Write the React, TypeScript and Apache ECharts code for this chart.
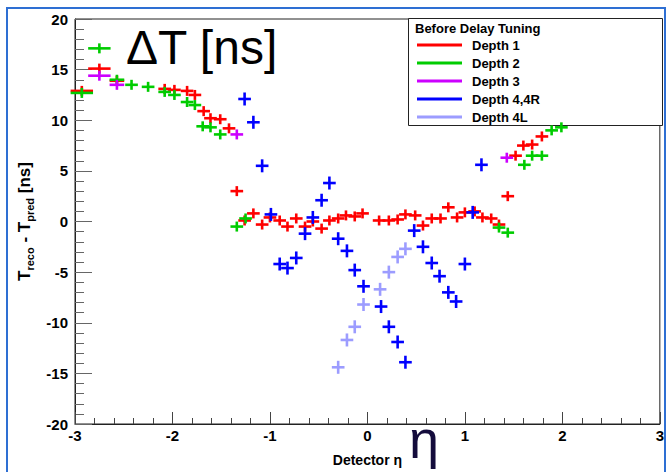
import { useEffect, useRef } from "react";
import * as echarts from "echarts";

// Timing offset T_reco - T_pred [ns] per detector eta bin, before delay tuning
const depth1: [number, number][] = [
  [-2.93, 12.9], [-2.75, 15.1], [-2.57, 13.9], [-2.08, 13.1], [-1.98, 13.0], [-1.85, 12.9],
  [-1.77, 12.5], [-1.68, 10.9], [-1.61, 10.2], [-1.51, 10.1], [-1.42, 9.2], [-1.34, 3.0],
  [-1.26, 0.1], [-1.17, 0.8], [-1.08, -0.3], [-1.0, 0.4], [-0.9, 0.1], [-0.82, -0.5],
  [-0.73, 0.3], [-0.64, -0.5], [-0.56, 0.0], [-0.47, -0.7], [-0.39, 0.1], [-0.3, 0.3],
  [-0.22, 0.6], [-0.13, 0.5], [-0.05, 0.8], [0.12, 0.1], [0.22, 0.1], [0.31, 0.2],
  [0.39, 0.7], [0.49, 0.6], [0.57, -0.4], [0.66, 0.3], [0.75, 0.3], [0.83, 1.4],
  [0.92, 0.4], [1.0, 0.9], [1.1, 1.0], [1.18, 0.4], [1.27, 0.3], [1.35, -0.3],
  [1.44, 2.5], [1.52, 6.5], [1.6, 7.5], [1.69, 7.6], [1.79, 8.4],
];

const depth2: [number, number][] = [
  [-2.93, 12.7], [-2.75, 17.1], [-2.57, 14.0], [-2.42, 13.5], [-2.25, 13.3], [-2.08, 12.8],
  [-1.98, 12.5], [-1.85, 11.8], [-1.77, 11.5], [-1.69, 9.4], [-1.61, 9.3], [-1.51, 8.6],
  [-1.34, -0.5], [-1.25, 0.3], [1.35, -0.6], [1.44, -1.1], [1.61, 5.6], [1.69, 6.5],
  [1.79, 6.5], [1.89, 9.0], [1.99, 9.3],
];

const depth3: [number, number][] = [
  [-2.75, 14.4], [-2.57, 13.5], [-1.34, 8.6], [1.43, 6.3],
];

const depth4: [number, number][] = [
  [-1.26, 12.1], [-1.17, 9.8], [-1.08, 5.5], [-0.99, 0.7], [-0.9, -4.2], [-0.82, -4.6],
  [-0.73, -3.6], [-0.64, -1.2], [-0.56, 0.4], [-0.47, 2.1], [-0.39, 3.8], [-0.3, -1.7],
  [-0.21, -2.9], [-0.13, -4.8], [-0.04, -6.4], [0.14, -8.4], [0.22, -10.4], [0.31, -11.9],
  [0.39, -13.9], [0.48, -0.9], [0.57, -2.5], [0.66, -4.1], [0.74, -5.4], [0.83, -7.0],
  [0.91, -7.9], [1.0, -4.2], [1.08, 0.9], [1.17, 5.6],
];

const depth4L: [number, number][] = [
  [-0.3, -14.4], [-0.21, -11.7], [-0.13, -10.4], [-0.04, -8.2], [0.13, -6.7], [0.22, -5.0],
  [0.31, -3.5], [0.39, -2.7],
];

const seriesNames = ["Depth 1", "Depth 2", "Depth 3", "Depth 4,4R", "Depth 4L"];
const seriesData = [depth1, depth2, depth3, depth4, depth4L];
const seriesColors = ["#ff0000", "#00cc00", "#cc00ff", "#0000ff", "#9c9cff"];
const armHeight = [5, 5, 5, 6.5, 6.5];

const legendTitle = "Before Delay Tuning";
const xTitle = "Detector η";

// half width of the eta bin drawn as the horizontal error bar
function binHalfWidth(eta: number): number {
  const a = Math.abs(eta);
  if (a > 2.65) return 0.115;
  if (a > 2.5) return 0.075;
  return 0.065;
}

const FONT = "'Liberation Sans', Arial, Helvetica, sans-serif";

export default function App() {
  const ref = useRef<HTMLDivElement>(null);

  useEffect(() => {
    if (!ref.current) return;
    const chart = echarts.init(ref.current, undefined, { renderer: "svg" });

    const series = seriesNames.map((name, i) => ({
      name,
      type: "custom" as const,
      data: seriesData[i],
      encode: { x: 0, y: 1 },
      itemStyle: { color: seriesColors[i] },
      renderItem: (_params: any, api: any) => {
        const x = api.value(0) as number;
        const y = api.value(1) as number;
        const hw = binHalfWidth(x);
        const c = api.coord([x, y]);
        const l = api.coord([x - hw, y]);
        const r = api.coord([x + hw, y]);
        const vh = armHeight[i];
        const style = { stroke: seriesColors[i], lineWidth: 2.6, fill: "none" };
        return {
          type: "group",
          children: [
            { type: "line", shape: { x1: l[0], y1: c[1], x2: r[0], y2: c[1] }, style },
            { type: "line", shape: { x1: c[0], y1: c[1] - vh, x2: c[0], y2: c[1] + vh }, style },
          ],
        };
      },
    }));

    chart.setOption({
      animation: false,
      backgroundColor: "#ffffff",
      textStyle: { fontFamily: FONT },
      grid: {
        left: 75,
        right: 4,
        top: 19,
        bottom: 45,
        show: true,
        borderColor: "#222",
        borderWidth: 1,
        containLabel: false,
      },
      xAxis: {
        type: "value",
        min: -3,
        max: 3,
        interval: 1,
        name: xTitle,
        nameLocation: "middle",
        nameGap: 29,
        nameTextStyle: { fontFamily: FONT, fontWeight: "bold", fontSize: 14, color: "#000" },
        axisLine: { show: true, onZero: false, lineStyle: { color: "#222", width: 1 } },
        axisTick: { show: true, inside: true, length: 12, lineStyle: { color: "#444" } },
        minorTick: { show: true, splitNumber: 5, length: 6, lineStyle: { color: "#444" } },
        splitLine: { show: false },
        axisLabel: { fontFamily: FONT, fontWeight: "bold", fontSize: 15, color: "#000", margin: 4 },
      },
      yAxis: {
        type: "value",
        min: -20,
        max: 20,
        interval: 5,
        name: "{b|T}{s|reco}{b| - T}{s|pred}{b| [ns]}",
        nameLocation: "middle",
        nameRotate: 90,
        nameGap: 40,
        nameTextStyle: {
          rich: {
            b: { fontFamily: FONT, fontWeight: "bold", fontSize: 17, color: "#000", lineHeight: 22 },
            s: {
              fontFamily: FONT,
              fontWeight: "bold",
              fontSize: 11,
              color: "#000",
              lineHeight: 22,
              verticalAlign: "bottom",
            },
          },
        },
        axisLine: { show: true, onZero: false, lineStyle: { color: "#222", width: 1 } },
        axisTick: { show: true, inside: true, length: 17, lineStyle: { color: "#666" } },
        minorTick: { show: true, splitNumber: 5, length: 9, lineStyle: { color: "#666" } },
        splitLine: { show: false },
        axisLabel: { fontFamily: FONT, fontWeight: "bold", fontSize: 15, color: "#000", margin: 7 },
      },
      legend: {
        show: true,
        selectedMode: false,
        orient: "vertical",
        left: 417,
        top: 36,
        itemWidth: 45,
        itemHeight: 3,
        itemGap: 0,
        icon: "rect",
        padding: 0,
        data: seriesNames,
        textStyle: {
          fontFamily: FONT,
          fontWeight: "bold",
          fontSize: 13,
          color: "#000",
          lineHeight: 18,
          padding: [0, 0, 0, 5],
        },
      },
      graphic: [
        {
          type: "rect",
          z: 0,
          silent: true,
          shape: { x: 7, y: 8, width: 658, height: 480 },
          style: { fill: "none", stroke: "#2e6fd3", lineWidth: 2 },
        },
        {
          type: "rect",
          z: 1,
          silent: true,
          shape: { x: 408.5, y: 18.5, width: 254, height: 107 },
          style: { fill: "#ffffff", stroke: "#222", lineWidth: 1 },
        },
        {
          type: "text",
          z: 2,
          silent: true,
          style: {
            text: legendTitle,
            x: 415,
            y: 28,
            textVerticalAlign: "middle",
            font: `bold 13px ${FONT}`,
            fill: "#000",
          },
        },
        {
          type: "text",
          z: 5,
          silent: true,
          style: {
            text: "ΔT [ns]",
            x: 126,
            y: 47,
            textVerticalAlign: "middle",
            font: `48px ${FONT}`,
            fill: "#000",
          },
        },
        {
          type: "text",
          z: 5,
          silent: true,
          style: {
            text: "η",
            x: 409,
            y: 439,
            textVerticalAlign: "middle",
            font: `54px ${FONT}`,
            fill: "#140c3c",
          },
        },
      ],
      series,
    });

    return () => {
      chart.dispose();
    };
  }, []);

  return (
    <div
      ref={ref}
      style={{ position: "fixed", left: 0, top: 0, width: 667, height: 472, background: "#fff" }}
    />
  );
}
